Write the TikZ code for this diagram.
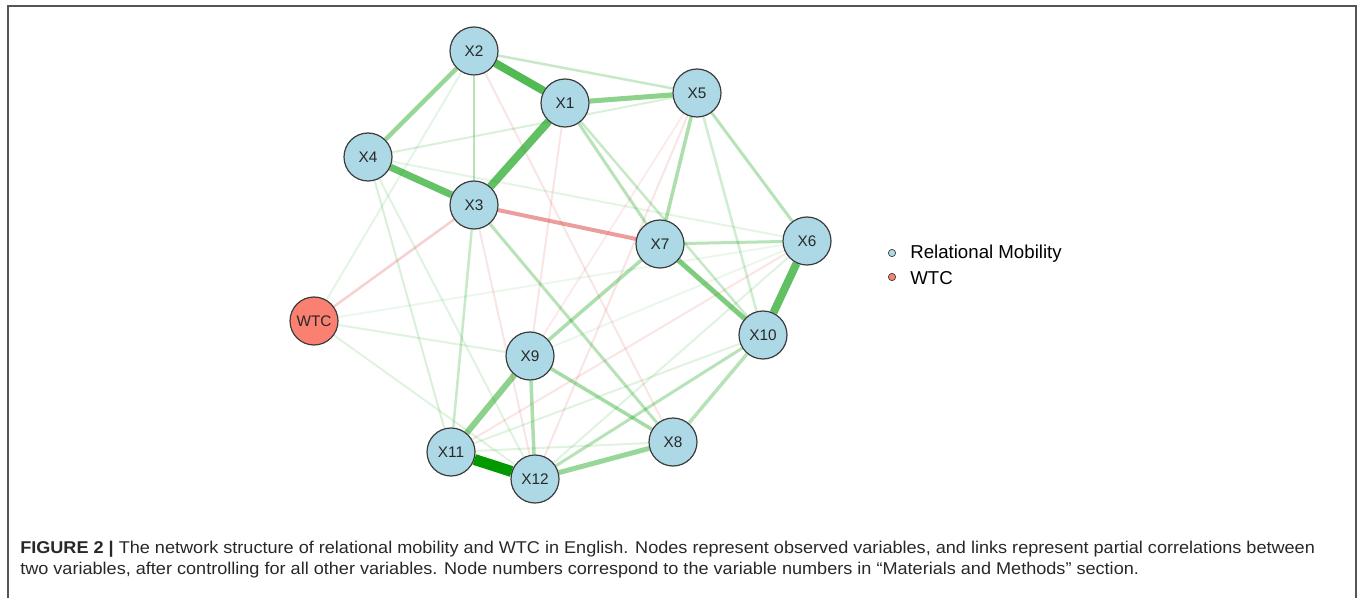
\documentclass[tikz,border=0pt]{standalone}
\usepackage{fontspec}
\setmainfont{Liberation Sans}
\newfontfamily\capfont[FakeStretch=1.06]{Liberation Sans}
\usepackage{tikz}
\usetikzlibrary{backgrounds}
\definecolor{Pos_edge}{RGB}{0, 153, 0}
\definecolor{Neg_edge}{RGB}{204, 0, 0}
\definecolor{Node_blue}{RGB}{173, 216, 230}
\definecolor{Node_red}{RGB}{250, 128, 114}
\definecolor{Node_line}{RGB}{60, 60, 60}
\definecolor{Label_gray}{RGB}{40, 40, 40}
\definecolor{Frame_gray}{RGB}{85, 85, 85}
\tikzset{
    var node/.style={circle, draw=Node_line, fill=Node_blue, line width=0.9pt,
        minimum size=36pt, inner sep=0pt, text=Label_gray,
        font=\fontsize{11.5}{13}\selectfont},
    wtc node/.style={var node, fill=Node_red},
    pos/.style 2 args={draw=Pos_edge, draw opacity=#1, line width=#2*0.75pt},
    neg/.style 2 args={draw=Neg_edge, draw opacity=#1, line width=#2*0.75pt},
    key dot/.style={circle, draw=Node_line, line width=0.5pt, minimum size=5.5pt, inner sep=0pt}
}

\begin{document}
\begin{tikzpicture}[x=0.75pt, y=-0.75pt]
    \useasboundingbox (0,0) rectangle (1358,598);
    %% Frame
    \draw[Frame_gray, line width=1.5pt] (8,598) -- (8,6) -- (1356,6) -- (1356,598);

    %% Nodes
    \node[var node] (X2) at (474,51) {X2};
    \node[var node] (X1) at (565,103) {X1};
    \node[var node] (X5) at (697,93) {X5};
    \node[var node] (X4) at (368,157) {X4};
    \node[var node] (X3) at (474,205) {X3};
    \node[var node] (X7) at (660,244) {X7};
    \node[var node] (X6) at (807,241) {X6};
    \node[wtc node] (WTC) at (314,321) {WTC};
    \node[var node] (X10) at (763,335) {X10};
    \node[var node] (X9) at (530,356) {X9};
    \node[var node] (X11) at (451,452) {X11};
    \node[var node] (X8) at (673,442) {X8};
    \node[var node] (X12) at (535,479) {X12};

    %% Edges
    \begin{scope}[on background layer]
    % weak
    \draw[pos={0.10}{2}] (X2) -- (WTC);
    \draw[pos={0.12}{2}] (WTC) -- (X9);
    \draw[pos={0.08}{2}] (WTC) -- (X6);
    \draw[pos={0.12}{2}] (WTC) -- (X12);
    \draw[pos={0.15}{2}] (X4) -- (X5);
    \draw[pos={0.10}{2}] (X4) -- (X6);
    \draw[pos={0.15}{2}] (X4) -- (X11);
    \draw[pos={0.12}{2}] (X4) -- (X12);
    \draw[pos={0.12}{2}] (X10) -- (X11);
    \draw[pos={0.12}{2}] (X11) -- (X8);
    \draw[pos={0.12}{2}] (X6) -- (X12);
    \draw[pos={0.08}{2}] (X6) -- (X9);
    \draw[neg={0.10}{2}] (X2) -- (X8);
    \draw[neg={0.10}{2}] (X1) -- (X9);
    \draw[neg={0.10}{2}] (X3) -- (X12);
    \draw[neg={0.10}{2}] (X5) -- (X12);
    \draw[neg={0.08}{2}] (X5) -- (X9);
    \draw[neg={0.10}{2}] (X6) -- (X11);
    \draw[neg={0.18}{2.5}] (WTC) -- (X3);
    \draw[pos={0.18}{2.5}] (X5) -- (X10);
    \draw[pos={0.22}{2.5}] (X1) -- (X10);
    \draw[pos={0.22}{2.5}] (X3) -- (X11);
    \draw[pos={0.28}{2.5}] (X2) -- (X3);
    \draw[pos={0.22}{2.5}] (X2) -- (X5);
    % medium
    \draw[pos={0.28}{3.5}] (X10) -- (X8);
    \draw[pos={0.28}{3}] (X10) -- (X12);
    \draw[pos={0.28}{3}] (X3) -- (X8);
    \draw[pos={0.32}{3.5}] (X9) -- (X12);
    \draw[pos={0.28}{3}] (X7) -- (X6);
    \draw[pos={0.28}{3}] (X1) -- (X7);
    \draw[pos={0.28}{3}] (X5) -- (X6);
    \draw[pos={0.32}{3.5}] (X5) -- (X7);
    \draw[pos={0.32}{3.5}] (X7) -- (X9);
    \draw[pos={0.35}{3.5}] (X9) -- (X8);
    \draw[neg={0.38}{4}] (X3) -- (X7);
    \draw[pos={0.40}{4.5}] (X2) -- (X4);
    \draw[pos={0.40}{5}] (X12) -- (X8);
    \draw[pos={0.45}{6}] (X9) -- (X11);
    \draw[pos={0.50}{5}] (X7) -- (X10);
    \draw[pos={0.45}{5}] (X1) -- (X5);
    % strong
    \draw[pos={0.62}{8}] (X6) -- (X10);
    \draw[pos={0.60}{7}] (X4) -- (X3);
    \draw[pos={0.62}{8}] (X1) -- (X3);
    \draw[pos={0.68}{8}] (X2) -- (X1);
    \draw[pos={1}{11}] (X11) -- (X12);
    \end{scope}

    %% Legend
    \node[key dot, fill=Node_blue] (keyRM) at (892,253) {};
    \node[key dot, fill=Node_red] (keyWTC) at (892,277) {};
    \node[anchor=base west, inner sep=0pt, font=\fontsize{14}{16}\selectfont] (txtRM) at (910,259) {Relational Mobility};
    \node[anchor=base west, inner sep=0pt, font=\fontsize{14}{16}\selectfont] (txtWTC) at (910,285) {WTC};

    %% Caption
    \node[anchor=base west, inner sep=0pt, text=Label_gray, font=\capfont\fontsize{12.8}{14}\selectfont] (cap1) at (20,553)
    {\textbf{FIGURE 2 |} The network structure of relational mobility and WTC in English. Nodes represent observed variables, and links represent partial correlations between};
    \node[anchor=base west, inner sep=0pt, text=Label_gray, font=\capfont\fontsize{12.8}{14}\selectfont] (cap2) at (20,574)
    {two variables, after controlling for all other variables. Node numbers correspond to the variable numbers in “Materials and Methods” section.};
\end{tikzpicture}
\end{document}
